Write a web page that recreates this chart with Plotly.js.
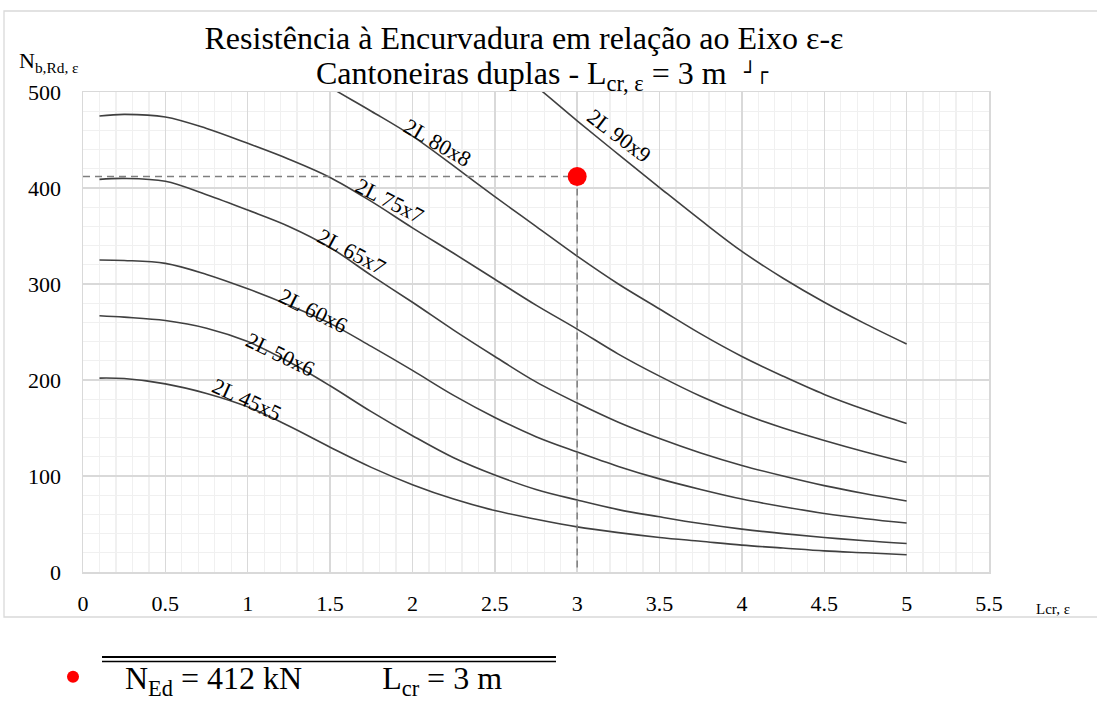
<!DOCTYPE html>
<html><head><meta charset="utf-8">
<script src="https://cdn.plot.ly/plotly-3.0.1.min.js"></script>
<style>html,body{margin:0;padding:0;background:#fff;overflow:hidden}</style>
</head><body>
<div id="chart" style="width:1097px;height:711px"></div>
<script>
// ---- data ----
const lcr = [0.1, 0.25, 0.5, 0.75, 1.0, 1.25, 1.5, 1.75, 2.0, 2.25, 2.5, 2.75, 3.0, 3.25, 3.5, 3.75, 4.0, 4.25, 4.5, 4.75, 5.0];
const nb_45x5 = [202, 201.5, 196, 186, 172, 152, 130, 109, 91, 76, 64, 55, 47, 41, 36, 32, 28, 25, 22, 20, 18];
const nb_50x6 = [267, 265.5, 262, 254, 240, 219, 194, 167, 142, 119, 101, 86, 75, 65, 57.5, 50.5, 44.7, 40, 36, 32.5, 29.7];
const nb_60x6 = [325, 324.5, 321.5, 310, 295, 278, 259, 235, 210, 184, 161, 141, 125, 110, 97, 86, 76, 68, 61, 55.5, 51];
const nb_65x7 = [409, 410, 407, 393, 377, 360, 338, 309, 281, 252, 224.5, 198, 176, 156, 139, 124, 111, 100, 90, 81.5, 74];
const nb_75x7 = [475, 476.7, 474, 462, 446.5, 430, 411, 386, 358.5, 332, 305, 278, 253, 227, 204, 183, 165, 150, 137, 125, 114];
const lcr_80x8 = [1.25, 1.5, 1.75, 2.0, 2.25, 2.5, 2.75, 3.0, 3.25, 3.5, 3.75, 4.0, 4.25, 4.5, 4.75, 5.0];
const nb_80x8 = [532, 505, 480, 454, 423, 391, 360, 329, 300, 274, 248, 224.5, 204, 185, 169, 154.6];
const lcr_90x9 = [2.5, 2.75, 3.0, 3.25, 3.5, 3.75, 4.0, 4.25, 4.5, 4.75, 5.0];
const nb_90x9 = [540, 506, 470, 435, 400.5, 366.5, 334, 306, 281, 258.5, 237.5];
const sectionNames = ['2L 45x5', '2L 50x6', '2L 60x6', '2L 65x7', '2L 75x7', '2L 80x8', '2L 90x9'];
const NEd = 412;     // kN
const Lcr = 3;       // m
const xTickVals = [0, 0.5, 1, 1.5, 2, 2.5, 3, 3.5, 4, 4.5, 5, 5.5];
const yTickVals = [0, 100, 200, 300, 400, 500];

// ---- label placement (layout only) ----
const labelPlace = [
  {x: 0.993, y: 179.2, a: 24.5},
  {x: 1.200, y: 226.9, a: 26},
  {x: 1.398, y: 272.9, a: 26.5},
  {x: 1.630, y: 333.6, a: 28},
  {x: 1.858, y: 386.7, a: 27},
  {x: 2.151, y: 447.4, a: 30},
  {x: 3.254, y: 455.2, a: 37}
];

const serif = "'Liberation Serif', 'Times New Roman', serif";
const curveLine = {color: '#404040', width: 1.6, shape: 'spline', smoothing: 1};

const curveX = [lcr, lcr, lcr, lcr, lcr, lcr_80x8, lcr_90x9];
const curveY = [nb_45x5, nb_50x6, nb_60x6, nb_65x7, nb_75x7, nb_80x8, nb_90x9];

const traces = curveY.map((ys, i) => ({
  type: 'scatter', mode: 'lines', x: curveX[i], y: ys, name: sectionNames[i],
  line: curveLine, showlegend: false, hoverinfo: 'skip'
}));

const dashLine = {color: '#7f7f7f', width: 1.5, dash: '7px,5px'};
traces.push({type: 'scatter', mode: 'lines', x: [0, Lcr], y: [NEd, NEd], line: dashLine, showlegend: false});
traces.push({type: 'scatter', mode: 'lines', x: [Lcr, Lcr], y: [NEd, 0], line: dashLine, showlegend: false});
traces.push({
  type: 'scatter', mode: 'markers', x: [Lcr], y: [NEd],
  marker: {color: '#ff0000', size: 19},
  name: 'N<sub>Ed</sub> = ' + NEd + ' kN' + '\u00a0'.repeat(10) + 'L<sub>cr</sub> = ' + Lcr + ' m',
  showlegend: true
});

const annotations = sectionNames.map((s, i) => ({
  x: labelPlace[i].x, y: labelPlace[i].y, xref: 'x', yref: 'y',
  text: s, textangle: labelPlace[i].a, showarrow: false,
  xanchor: 'center', yanchor: 'middle',
  font: {family: serif, size: 22, color: '#000'}
}));
annotations.push({
  xref: 'paper', yref: 'paper', x: (521 - 83) / 906, y: (572 - 75) / 480,
  xanchor: 'center', yanchor: 'middle', showarrow: false,
  text: 'Cantoneiras duplas - L<sub>cr, ε</sub> = 3 m', font: {family: serif, size: 32, color: '#000'}
});
annotations.push({
  xref: 'paper', yref: 'paper', x: (17 - 83) / 906, y: (572 - 78) / 480,
  xanchor: 'left', yanchor: 'bottom', showarrow: false,
  text: 'N<sub>b,Rd, ε</sub>', font: {family: serif, size: 22, color: '#000'}
});
annotations.push({
  xref: 'paper', yref: 'paper', x: (1034 - 83) / 906, y: (572 - 609) / 480,
  xanchor: 'left', yanchor: 'middle', showarrow: false,
  text: 'Lcr, ε', font: {family: serif, size: 15, color: '#000'}
});
annotations.push({
  xref: 'paper', yref: 'paper', x: (756 - 83) / 906, y: (572 - 72) / 480,
  xanchor: 'center', yanchor: 'middle', showarrow: false,
  text: '┘┌', font: {family: "'DejaVu Sans', sans-serif", size: 20, color: '#000'}
});

const shapes = [
  {type: 'rect', xref: 'paper', yref: 'paper', x0: (4 - 83) / 906, x1: 1.25, y0: (572 - 617) / 480, y1: (572 - 11) / 480,
   line: {color: '#d9d9d9', width: 1.3}, fillcolor: 'rgba(0,0,0,0)', layer: 'below'},
  {type: 'line', xref: 'paper', yref: 'paper', x0: (102 - 83) / 906, x1: (556 - 83) / 906, y0: (572 - 657) / 480, y1: (572 - 657) / 480,
   line: {color: '#000', width: 2.2}},
  {type: 'line', xref: 'paper', yref: 'paper', x0: (102 - 83) / 906, x1: (556 - 83) / 906, y0: (572 - 661.5) / 480, y1: (572 - 661.5) / 480,
   line: {color: '#000', width: 1.6}}
];

const axisCommon = {
  showgrid: true, gridcolor: '#d9d9d9', gridwidth: 1.5,
  zeroline: false, showline: true, mirror: true, linecolor: '#d9d9d9', linewidth: 1.5,
  ticks: '', tickfont: {family: serif, size: 22, color: '#000'}
};

const layout = {
  width: 1097, height: 711,
  margin: {l: 83, r: 108, t: 92, b: 139, autoexpand: false},
  paper_bgcolor: '#fff', plot_bgcolor: '#fff',
  title: {
    text: 'Resistência à Encurvadura em relação ao Eixo ε-ε',
    font: {family: serif, size: 32, color: '#000'},
    xref: 'container', yref: 'container', x: 524 / 1097, xanchor: 'center',
    y: 1 - 38 / 711, yanchor: 'middle'
  },
  xaxis: Object.assign({}, axisCommon, {
    range: [0, 5.5], tickvals: xTickVals, ticklabelstandoff: 11,
    minor: {dtick: 0.1, showgrid: true, gridcolor: '#f0f0f0', gridwidth: 1.3}
  }),
  yaxis: Object.assign({}, axisCommon, {
    range: [0, 500], tickvals: yTickVals, ticklabelstandoff: 16,
    minor: {dtick: 20, showgrid: true, gridcolor: '#f0f0f0', gridwidth: 1.3}
  }),
  showlegend: true,
  legend: {
    x: (21 - 83) / 906, y: (572 - 677) / 480, xref: 'paper', yref: 'paper',
    xanchor: 'left', yanchor: 'middle', orientation: 'h',
    font: {family: serif, size: 32, color: '#000'},
    itemsizing: 'constant', bgcolor: 'rgba(0,0,0,0)', itemwidth: 94
  },
  annotations: annotations,
  shapes: shapes
};

Plotly.newPlot('chart', traces, layout, {displayModeBar: false, staticPlot: true});
</script>
</body></html>
